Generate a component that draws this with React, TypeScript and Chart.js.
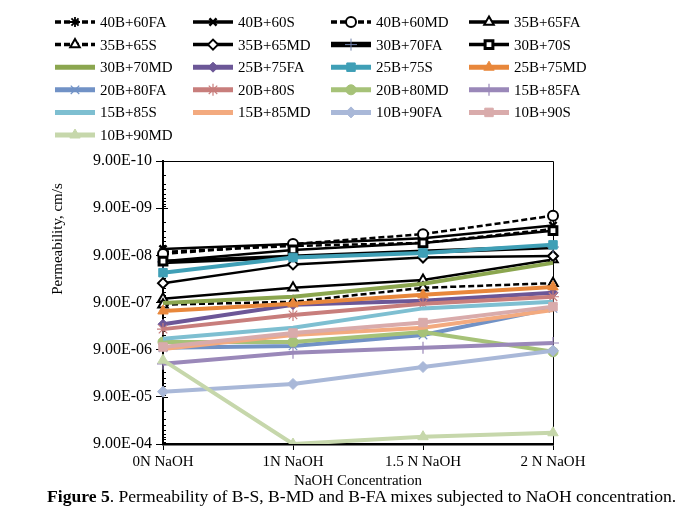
import React, { useEffect, useRef } from 'react';
import { Chart, registerables } from 'chart.js';
import { drawPoint } from 'chart.js/helpers';

Chart.register(...registerables);

const categories = ['0N NaOH', '1N NaOH', '1.5 N NaOH', '2 N NaOH'];

const s40B60FA = [7.6e-8, 5.7e-8, 4.9e-8, 2.5e-8];
const s40B60S = [6.6e-8, 5.2e-8, 3.9e-8, 2.1e-8];
const s40B60MD = [8.4e-8, 5.2e-8, 3.2e-8, 1.3e-8];
const s35B65FA = [7.5e-7, 4.4e-7, 3.0e-7, 1.1e-7];
const s35B65S = [1.0e-6, 8.7e-7, 4.4e-7, 3.5e-7];
const s35B65MD = [3.5e-7, 1.4e-7, 1.0e-7, 9.3e-8];
const s30B70FA = [1.24e-7, 9.7e-8, 7.6e-8, 6.0e-8];
const s30B70S = [1.2e-7, 6.9e-8, 4.9e-8, 2.7e-8];
const s30B70MD = [9.2e-7, 6.8e-7, 3.6e-7, 1.3e-7];
const s25B75FA = [2.6e-6, 1.0e-6, 8.3e-7, 5.6e-7];
const s25B75S = [2.1e-7, 1.0e-7, 8.0e-8, 5.4e-8];
const s25B75MD = [1.36e-6, 9.6e-7, 6.2e-7, 4.2e-7];
const s20B80FA = [8.2e-6, 7.5e-6, 4.4e-6, 1.2e-6];
const s20B80S = [3.3e-6, 1.65e-6, 9.6e-7, 6.8e-7];
const s20B80MD = [6.2e-6, 6.2e-6, 3.8e-6, 1.0e-5];
const s15B85FA = [1.8e-5, 1.05e-5, 8.2e-6, 6.5e-6];
const s15B85S = [5.3e-6, 3.1e-6, 1.2e-6, 8.7e-7];
const s15B85MD = [8.7e-6, 4.4e-6, 3.1e-6, 1.3e-6];
const s10B90FA = [7.0e-5, 4.8e-5, 2.1e-5, 9.5e-6];
const s10B90S = [7.9e-6, 4.0e-6, 2.4e-6, 1.1e-6];
const s10B90MD = [1.5e-5, 9.0e-4, 6.3e-4, 5.2e-4];

const yTickValues = [9e-10, 9e-9, 9e-8, 9e-7, 9e-6, 9e-5, 9e-4];
const yTickLabels = ['9.00E-10', '9.00E-09', '9.00E-08', '9.00E-07', '9.00E-06', '9.00E-05', '9.00E-04'];

const FONT = '"Liberation Serif", "Times New Roman", serif';

type Style = {
  color: string; width: number; dash?: number[]; point: any; radius: number;
  pbg: string; pborder: string; pwidth: number;
};

const blackOpen = (point: string, radius: number, dash?: number[], width = 2.5): Style => ({
  color: '#000', width, dash, point, radius, pbg: '#fff', pborder: '#000', pwidth: 2,
});
const colored = (color: string, point: any, radius: number, thin = false): Style => ({
  color, width: 4, point, radius, pbg: color, pborder: color, pwidth: thin ? 1.2 : 1,
});

const seriesDefs: [string, number[], Style][] = [
  ['40B+60FA', s40B60FA, { ...blackOpen('star', 5, [6, 3]), pwidth: 1.8 }],
  ['40B+60S', s40B60S, { ...blackOpen('crossRot', 5), pwidth: 2.5 }],
  ['40B+60MD', s40B60MD, blackOpen('circle', 5, [6, 3])],
  ['35B+65FA', s35B65FA, blackOpen('triangle', 5.5)],
  ['35B+65S', s35B65S, blackOpen('triangle', 5.5, [6, 3])],
  ['35B+65MD', s35B65MD, blackOpen('rectRot', 5)],
  ['30B+70FA', s30B70FA, { color: '#000', width: 4.5, point: 'cross', radius: 6, pbg: '#6f7fa8', pborder: '#6f7fa8', pwidth: 1 }],
  ['30B+70S', s30B70S, { ...blackOpen('rect', 5.5), pwidth: 3 }],
  ['30B+70MD', s30B70MD, colored('#8ba64f', 'circle', 0)],
  ['25B+75FA', s25B75FA, colored('#6c5797', 'rectRot', 5)],
  ['25B+75S', s25B75S, colored('#3f9fb6', 'rect', 6)],
  ['25B+75MD', s25B75MD, colored('#e8873b', 'triangle', 6)],
  ['20B+80FA', s20B80FA, colored('#7192c6', 'crossRot', 6, true)],
  ['20B+80S', s20B80S, colored('#c87e7c', 'star', 6, true)],
  ['20B+80MD', s20B80MD, colored('#a6c278', 'circle', 5)],
  ['15B+85FA', s15B85FA, colored('#9a88b9', 'cross', 6, true)],
  ['15B+85S', s15B85S, colored('#7ebfd1', 'circle', 0)],
  ['15B+85MD', s15B85MD, colored('#f3aa7f', 'circle', 0)],
  ['10B+90FA', s10B90FA, colored('#a9b8d8', 'rectRot', 5.5)],
  ['10B+90S', s10B90S, colored('#d9abab', 'rect', 6)],
  ['10B+90MD', s10B90MD, colored('#c6d7ab', 'triangle', 6)],
];

const legendPlugin = {
  id: 'gridLegend',
  afterDraw(chart: any) {
    const ctx = chart.ctx as CanvasRenderingContext2D;
    ctx.save();
    chart.data.datasets.forEach((ds: any, i: number) => {
      const col = i % 4;
      const row = Math.floor(i / 4);
      const x0 = 47 + col * 138;
      const y = 14 + row * 22.6;
      ctx.strokeStyle = ds.borderColor;
      ctx.lineWidth = ds.borderWidth + 1;
      ctx.setLineDash(ds.borderDash || []);
      ctx.beginPath();
      ctx.moveTo(x0, y);
      ctx.lineTo(x0 + 40, y);
      ctx.stroke();
      ctx.setLineDash([]);
      if (ds.pointRadius > 0) {
        ctx.fillStyle = ds.pointBackgroundColor;
        ctx.strokeStyle = ds.pointBorderColor;
        ctx.lineWidth = ds.pointBorderWidth;
        drawPoint(ctx, { pointStyle: ds.pointStyle, radius: ds.pointRadius, rotation: 0, borderWidth: ds.pointBorderWidth } as any, x0 + 20, y);
      }
      ctx.fillStyle = '#000';
      ctx.font = '15px ' + FONT;
      ctx.textAlign = 'left';
      ctx.textBaseline = 'middle';
      ctx.fillText(ds.label, x0 + 45, y + 1);
    });
    ctx.restore();
  },
};

const framePlugin = {
  id: 'frameTicks',
  beforeDatasetsDraw(chart: any) {
    const ctx = chart.ctx as CanvasRenderingContext2D;
    const ys = chart.scales.y;
    const { left, right, top, bottom } = chart.chartArea;
    ctx.save();
    ctx.strokeStyle = '#000';
    ctx.lineWidth = 1;
    ctx.beginPath();
    ctx.moveTo(left, top + 0.5);
    ctx.lineTo(right + 0.5, top + 0.5);
    ctx.lineTo(right + 0.5, bottom);
    ctx.stroke();
    ctx.beginPath();
    yTickValues.forEach((v, idx) => {
      const py = Math.round(ys.getPixelForValue(v)) + 0.5;
      ctx.moveTo(left, py);
      ctx.lineTo(left + 5, py);
      if (idx < yTickValues.length - 1) {
        for (let k = 2; k <= 9; k++) {
          const p2 = Math.round(ys.getPixelForValue(v * k)) + 0.5;
          ctx.moveTo(left, p2);
          ctx.lineTo(left + 3, p2);
        }
      }
    });
    ctx.stroke();
    // y title
    ctx.fillStyle = '#000';
    ctx.font = '15px ' + FONT;
    ctx.textAlign = 'center';
    ctx.textBaseline = 'middle';
    ctx.translate(50, 231);
    ctx.rotate(-Math.PI / 2);
    ctx.fillText('Permeability, cm/s', 0, 0);
    ctx.restore();
  },
};

export default function App() {
  const ref = useRef<HTMLCanvasElement | null>(null);
  useEffect(() => {
    if (!ref.current) return;
    Chart.defaults.font.family = FONT;
    Chart.defaults.color = '#000';
    const n = seriesDefs.length;
    const chart = new Chart(ref.current, {
      type: 'line',
      data: {
        labels: categories,
        datasets: seriesDefs.map(([label, data, st], i) => ({
          label,
          data,
          borderColor: st.color,
          backgroundColor: st.color,
          borderWidth: st.width,
          borderDash: st.dash || [],
          pointStyle: st.point,
          pointRadius: st.radius,
          pointBackgroundColor: st.pbg,
          pointBorderColor: st.pborder,
          pointBorderWidth: st.pwidth,
          tension: 0,
          fill: false,
          order: n - i,
        })),
      },
      options: {
        responsive: false,
        animation: false,
        layout: { padding: { top: 153, right: 125, left: 0, bottom: 0 } },
        plugins: { legend: { display: false }, tooltip: { enabled: false }, title: { display: false } },
        scales: {
          x: {
            type: 'category',
            offset: false,
            grid: { drawOnChartArea: false, drawTicks: true, tickLength: 6, color: '#000', lineWidth: 1 },
            border: { color: '#000', width: 2.5 },
            ticks: { font: { size: 15, family: FONT }, color: '#000', padding: 3, maxRotation: 0, autoSkip: false },
            title: { display: true, text: 'NaOH Concentration', font: { size: 15, family: FONT }, color: '#000', padding: { top: 0, bottom: 18 } },
            afterFit: (s: any) => { s.height = 64; },
          },
          y: {
            type: 'logarithmic',
            reverse: true,
            min: 9e-10,
            max: 9e-4,
            afterBuildTicks: (s: any) => { s.ticks = yTickValues.map((v) => ({ value: v, major: true })); },
            ticks: {
              font: { size: 16, family: FONT },
              color: '#000',
              padding: 4,
              autoSkip: false,
              callback: (_v: any, idx: number) => yTickLabels[idx],
            },
            grid: { drawOnChartArea: false, drawTicks: true, tickLength: 7, color: '#000', lineWidth: 1 },
            border: { color: '#000', width: 2 },
            afterFit: (s: any) => { s.width = 155; },
          },
        },
      } as any,
      plugins: [framePlugin, legendPlugin],
    });
    return () => chart.destroy();
  }, []);
  return (
    <div style={{ position: 'relative', width: 670, height: 500 }}>
      <canvas ref={ref} width={670} height={500} style={{ display: 'block' }} />
      <div style={{ position: 'absolute', left: 39, top: 478, font: '17.6px ' + FONT, whiteSpace: 'nowrap', color: '#000' }}>
        <b>Figure 5</b>. Permeability of B-S, B-MD and B-FA mixes subjected to NaOH concentration.
      </div>
    </div>
  );
}
